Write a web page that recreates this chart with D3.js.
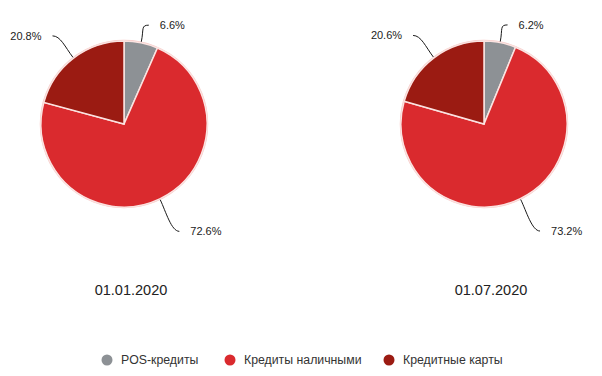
<!DOCTYPE html>
<html>
<head>
<meta charset="utf-8">
<script src="https://cdn.jsdelivr.net/npm/d3@7"></script>
<style>
  body { margin: 0; background: #fff; }
  svg { display: block; font-family: "Liberation Sans", Arial, sans-serif; }
</style>
</head>
<body>
<div id="chart"></div>
<script>
const categories = ["POS-кредиты", "Кредиты наличными", "Кредитные карты"];
const dates = ["01.01.2020", "01.07.2020"];
const share20200101 = [6.6, 72.6, 20.8];
const share20200701 = [6.2, 73.2, 20.6];
const seriesList = [share20200101, share20200701];
const colors = ["#8d9195", "#da2a2e", "#9b1b12"];

const width = 602, height = 376;
const radius = 83;
const centersX = [124, 484];
const centerY = 124;
// how far out each slice's label sits (per category)
const labelRadius = [101, 119, 111];

const svg = d3.select("#chart").append("svg")
  .attr("width", width)
  .attr("height", height);

const pie = d3.pie().sort(null).value(d => d);
const arc = d3.arc().innerRadius(0).outerRadius(radius);
const color = d3.scaleOrdinal().domain(categories).range(colors);

seriesList.forEach((values, i) => {
  const g = svg.append("g")
    .attr("transform", `translate(${centersX[i]},${centerY})`);

  const arcs = pie(values);

  // soft outer edge
  g.append("circle")
    .attr("r", radius + 0.5)
    .attr("fill", "none")
    .attr("stroke", "#f6c9c6")
    .attr("stroke-width", 1.5);

  g.selectAll("path.slice")
    .data(arcs)
    .enter()
    .append("path")
    .attr("class", "slice")
    .attr("d", arc)
    .attr("fill", (d, j) => color(categories[j]))
    .attr("stroke", "#fbe3e1")
    .attr("stroke-width", 1.5);

  // connectors + labels
  arcs.forEach((d, j) => {
    const a = (d.startAngle + d.endAngle) / 2;
    const sx = Math.sin(a), sy = -Math.cos(a);
    const side = sx >= 0 ? 1 : -1;
    const R = labelRadius[j];
    const p0 = [sx * (radius + 1), sy * (radius + 1)];
    const p1 = [sx * (radius + 14), sy * (radius + 14)];
    const p3 = [sx * R + side * 4, sy * R];
    const p2 = [p3[0] - side * 8, p3[1]];
    const path = d3.path();
    path.moveTo(p0[0], p0[1]);
    path.bezierCurveTo(p1[0], p1[1], p2[0], p2[1], p3[0], p3[1]);

    g.append("path")
      .attr("d", path.toString())
      .attr("fill", "none")
      .attr("stroke", "#1a1a1a")
      .attr("stroke-width", 1);

    g.append("text")
      .attr("x", p3[0] + side * 11)
      .attr("y", p3[1])
      .attr("dy", "0.35em")
      .attr("text-anchor", side > 0 ? "start" : "end")
      .attr("font-size", 11)
      .attr("fill", "#222")
      .text(d.data.toFixed(1) + "%");
  });

  svg.append("text")
    .attr("x", centersX[i] + 7)
    .attr("y", 290)
    .attr("dy", "0.35em")
    .attr("text-anchor", "middle")
    .attr("font-size", 14.5)
    .attr("fill", "#222")
    .text(dates[i]);
});

// Legend
const legendX = [107, 230, 389];
const legend = svg.append("g").attr("class", "legend");
categories.forEach((c, i) => {
  legend.append("circle")
    .attr("cx", legendX[i])
    .attr("cy", 360)
    .attr("r", 5.5)
    .attr("fill", color(c));
  legend.append("text")
    .attr("x", legendX[i] + 14)
    .attr("y", 360)
    .attr("dy", "0.35em")
    .attr("font-size", 12.3)
    .attr("fill", "#333")
    .text(c);
});
</script>
</body>
</html>
